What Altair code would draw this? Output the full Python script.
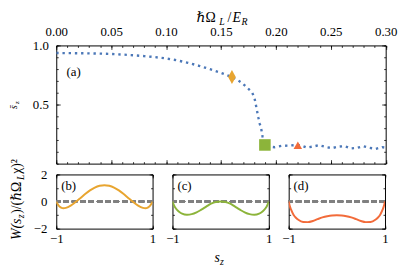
import altair as alt
import pandas as pd

FONT = "'Liberation Serif', 'Times New Roman', 'DejaVu Serif', serif"
BLUE = "#4C78B8"
ORANGE = "#E8A530"
GREEN = "#8CB43A"
RED = "#F26B3A"

# ---- panel (a): mean s_z versus coupling ----
omega = [0.000, 0.010, 0.020, 0.030, 0.040, 0.050, 0.060, 0.070, 0.080, 0.090,
         0.100, 0.110, 0.120, 0.130, 0.140, 0.150, 0.160, 0.165, 0.1693, 0.1738,
         0.1783, 0.1805, 0.1816, 0.1828, 0.1840, 0.1852, 0.1868, 0.1879, 0.1888, 0.1897,
         0.1942, 0.1990, 0.2050, 0.2110, 0.2166, 0.2226, 0.2280, 0.2336, 0.2393, 0.2450,
         0.2510, 0.2570, 0.2623, 0.2683, 0.2740, 0.2796, 0.2854, 0.2910, 0.2967, 0.3000]
sz = [0.936, 0.935, 0.934, 0.933, 0.931, 0.928, 0.923, 0.917, 0.910, 0.901,
      0.890, 0.874, 0.853, 0.828, 0.799, 0.768, 0.733, 0.709, 0.681, 0.644,
      0.603, 0.556, 0.506, 0.448, 0.392, 0.342, 0.286, 0.228, 0.190, 0.158,
      0.144, 0.139, 0.150, 0.152, 0.156, 0.156, 0.136, 0.144, 0.156, 0.142,
      0.131, 0.144, 0.148, 0.128, 0.133, 0.148, 0.133, 0.125, 0.139, 0.135]

mk_key = ["b", "c", "d"]
mk_omega = [0.16, 0.19, 0.22]
mk_sz = [0.733, 0.158, 0.155]

# ---- panels (b)-(d): W(s_z) ----
s_grid = [-1.0, -0.98, -0.95, -0.9, -0.85, -0.8, -0.7, -0.6, -0.5, -0.4, -0.3, -0.2, -0.1, 0.0,
          0.1, 0.2, 0.3, 0.4, 0.5, 0.6, 0.7, 0.8, 0.85, 0.9, 0.95, 0.98, 1.0]
w_b = [0.0, -0.15, -0.3, -0.45, -0.5, -0.47, -0.3, -0.04, 0.25, 0.55, 0.82, 1.03, 1.16, 1.21,
       1.16, 1.03, 0.82, 0.55, 0.25, -0.04, -0.3, -0.47, -0.5, -0.45, -0.3, -0.15, 0.0]
w_c = [0.0, -0.2, -0.4, -0.63, -0.79, -0.89, -0.97, -0.93, -0.8, -0.6, -0.38, -0.16, -0.03, 0.0,
       -0.03, -0.16, -0.38, -0.6, -0.8, -0.93, -0.97, -0.89, -0.79, -0.63, -0.4, -0.2, 0.0]
w_d = [0.0, -0.3, -0.6, -0.97, -1.2, -1.35, -1.51, -1.52, -1.44, -1.3, -1.17, -1.08, -1.03, -1.02,
       -1.03, -1.08, -1.17, -1.3, -1.44, -1.52, -1.51, -1.35, -1.2, -0.97, -0.6, -0.3, 0.0]

# tick positions
a_xmajor = [0.0, 0.05, 0.10, 0.15, 0.20, 0.25, 0.30]
a_xminor = [i / 100 for i in range(31)]
a_ymajor = [0.5, 1.0]
a_yminor = [i / 10 for i in range(11)]
w_xmajor = [-1, 0, 1]
w_xminor = [-1 + i * 0.25 for i in range(9)]
w_ymajor = [-2, 0, 2]
w_yminor = [-2 + i * 0.5 for i in range(9)]

ONE = pd.DataFrame({"k": [0]})


def txt(s, x, y, size=13, italic=False, angle=None, align="left"):
    kw = dict(text=s, font=FONT, fontSize=size, align=align,
              baseline="alphabetic", color="black")
    if italic:
        kw["fontStyle"] = "italic"
    if angle is not None:
        kw["angle"] = angle
    return alt.Chart(ONE).mark_text(**kw).encode(x=alt.value(x), y=alt.value(y))


def axis_layers(df, xf, yf, xsc, ysc, xmaj, xmin, ymaj, ymin, lab,
                xfmt, yfmt, xpad, ypad, maj_len=4, min_len=2):
    out = []
    for xo, yo in [("bottom", "left"), ("top", "right")]:
        for xv, yv, L, major in [(xmaj, ymaj, maj_len, True), (xmin, ymin, min_len, False)]:
            common = dict(tickSize=L, offset=-L, domain=False, grid=False, title=None,
                          tickColor="black", tickWidth=0.8, labelFont=FONT,
                          labelFontSize=13, labelColor="black", labelOverlap=False)
            xa = alt.Axis(orient=xo, values=xv, labels=bool(major and lab[xo]),
                          format=xfmt, labelPadding=xpad, labelFlush=False, **common)
            ya = alt.Axis(orient=yo, values=yv, labels=bool(major and lab[yo]),
                          format=yfmt, labelPadding=ypad, **common)
            out.append(
                alt.Chart(df).mark_point(opacity=0).encode(
                    x=alt.X(xf, type="quantitative", scale=xsc, axis=xa),
                    y=alt.Y(yf, type="quantitative", scale=ysc, axis=ya),
                )
            )
    return out


# ---------- top panel ----------
dfa = pd.DataFrame({"omega": omega, "sz": sz})
dfm = pd.DataFrame({"k": mk_key, "omega": mk_omega, "sz": mk_sz})
xsa = alt.Scale(domain=[0, 0.3], nice=False, zero=False)
ysa = alt.Scale(domain=[0, 1], nice=False, zero=False)

line_a = alt.Chart(dfa).mark_line(
    color=BLUE, strokeWidth=2.4, strokeDash=[2.4, 3.9], strokeCap="butt", clip=True
).encode(
    x=alt.X("omega:Q", scale=xsa, axis=None),
    y=alt.Y("sz:Q", scale=ysa, axis=None),
)
diamond = "M0,-1L0.55,0L0,1L-0.55,0Z"
marks_a = alt.Chart(dfm).mark_point(filled=True, opacity=1).encode(
    x=alt.X("omega:Q", scale=xsa, axis=None),
    y=alt.Y("sz:Q", scale=ysa, axis=None),
    shape=alt.Shape("k:N", scale=alt.Scale(domain=mk_key, range=[diamond, "square", "triangle-up"]), legend=None),
    color=alt.Color("k:N", scale=alt.Scale(domain=mk_key, range=[ORANGE, GREEN, RED]), legend=None),
    size=alt.Size("k:N", scale=alt.Scale(domain=mk_key, range=[200, 75, 90]), legend=None),
)

top_layers = axis_layers(dfa, "omega", "sz", xsa, ysa, a_xmajor, a_xminor, a_ymajor, a_yminor,
                         {"bottom": False, "left": True, "top": True, "right": False},
                         ".2f", ".1f", 7, 8)
top_layers += [line_a, marks_a,
               txt("(a)", 10.5, 31, 13),
               # top title  ħΩ_L / E_R
               txt("ℏΩ", 142.5, -24.0, 14),
               txt("L", 165.5, -21.0, 10, italic=True),
               txt("/", 174.0, -24.0, 14),
               txt("E", 179.0, -24.0, 14, italic=True),
               txt("R", 188.0, -21.0, 10, italic=True),
               # y title  s̄_z
               txt("s\u0304", -40.2, 64.5, 10, italic=True, angle=270),
               txt("z", -38.2, 59.5, 7, italic=True, angle=270),
               ]
top = alt.layer(*top_layers).resolve_axis(x="independent", y="independent").properties(
    width=334.5, height=120)

# ---------- bottom panels ----------
xsw = alt.Scale(domain=[-1, 1], nice=False, zero=False)
ysw = alt.Scale(domain=[-2, 2], nice=False, zero=False)


def wpanel(w, color, tag, left_labels, extra):
    df = pd.DataFrame({"s": s_grid, "W": w})
    layers = axis_layers(df, "s", "W", xsw, ysw, w_xmajor, w_xminor, w_ymajor, w_yminor,
                         {"bottom": True, "left": left_labels, "top": False, "right": False},
                         "d", "d", 4.5, 9.5, maj_len=3.5, min_len=2)
    zero = alt.Chart(df).mark_rule(color="#808080", strokeDash=[5.5, 3], strokeWidth=1.4).encode(
        y=alt.YDatum(0, scale=ysw, axis=None))
    curve = alt.Chart(df).mark_line(color=color, strokeWidth=2, interpolate="monotone", clip=True).encode(
        x=alt.X("s:Q", scale=xsw, axis=None),
        y=alt.Y("W:Q", scale=ysw, axis=None),
    )
    layers += [zero, curve, txt(tag, 5, 16, 13)] + extra
    return alt.layer(*layers).resolve_axis(x="independent", y="independent").properties(
        width=97.8, height=55)


ytitle = [
    txt("W(s", -35.3, 66.5, 14, italic=True, angle=270),
    txt("z", -32.3, 44.4, 10, italic=True, angle=270),
    txt(")/(ℏΩ", -35.3, 40.0, 14, angle=270),
    txt("L", -32.3, 5.7, 10, italic=True, angle=270),
    txt("χ)²", -35.3, -0.6, 14, angle=270),
]
xtitle = [
    txt("s", 42.7, 89, 14, italic=True),
    txt("z", 48.3, 92, 10, italic=True),
]

pb = wpanel(w_b, ORANGE, "(b)", True, ytitle)
pc = wpanel(w_c, GREEN, "(c)", False, xtitle)
pdd = wpanel(w_d, RED, "(d)", False, [])

chart = alt.vconcat(
    top,
    alt.hconcat(pb, pc, pdd, spacing=20, bounds="flush"),
    spacing=11, bounds="flush",
).properties(padding=0).configure_view(stroke="black", strokeWidth=1)

chart.save("out.html", embed_options={"renderer": "svg", "actions": False})
